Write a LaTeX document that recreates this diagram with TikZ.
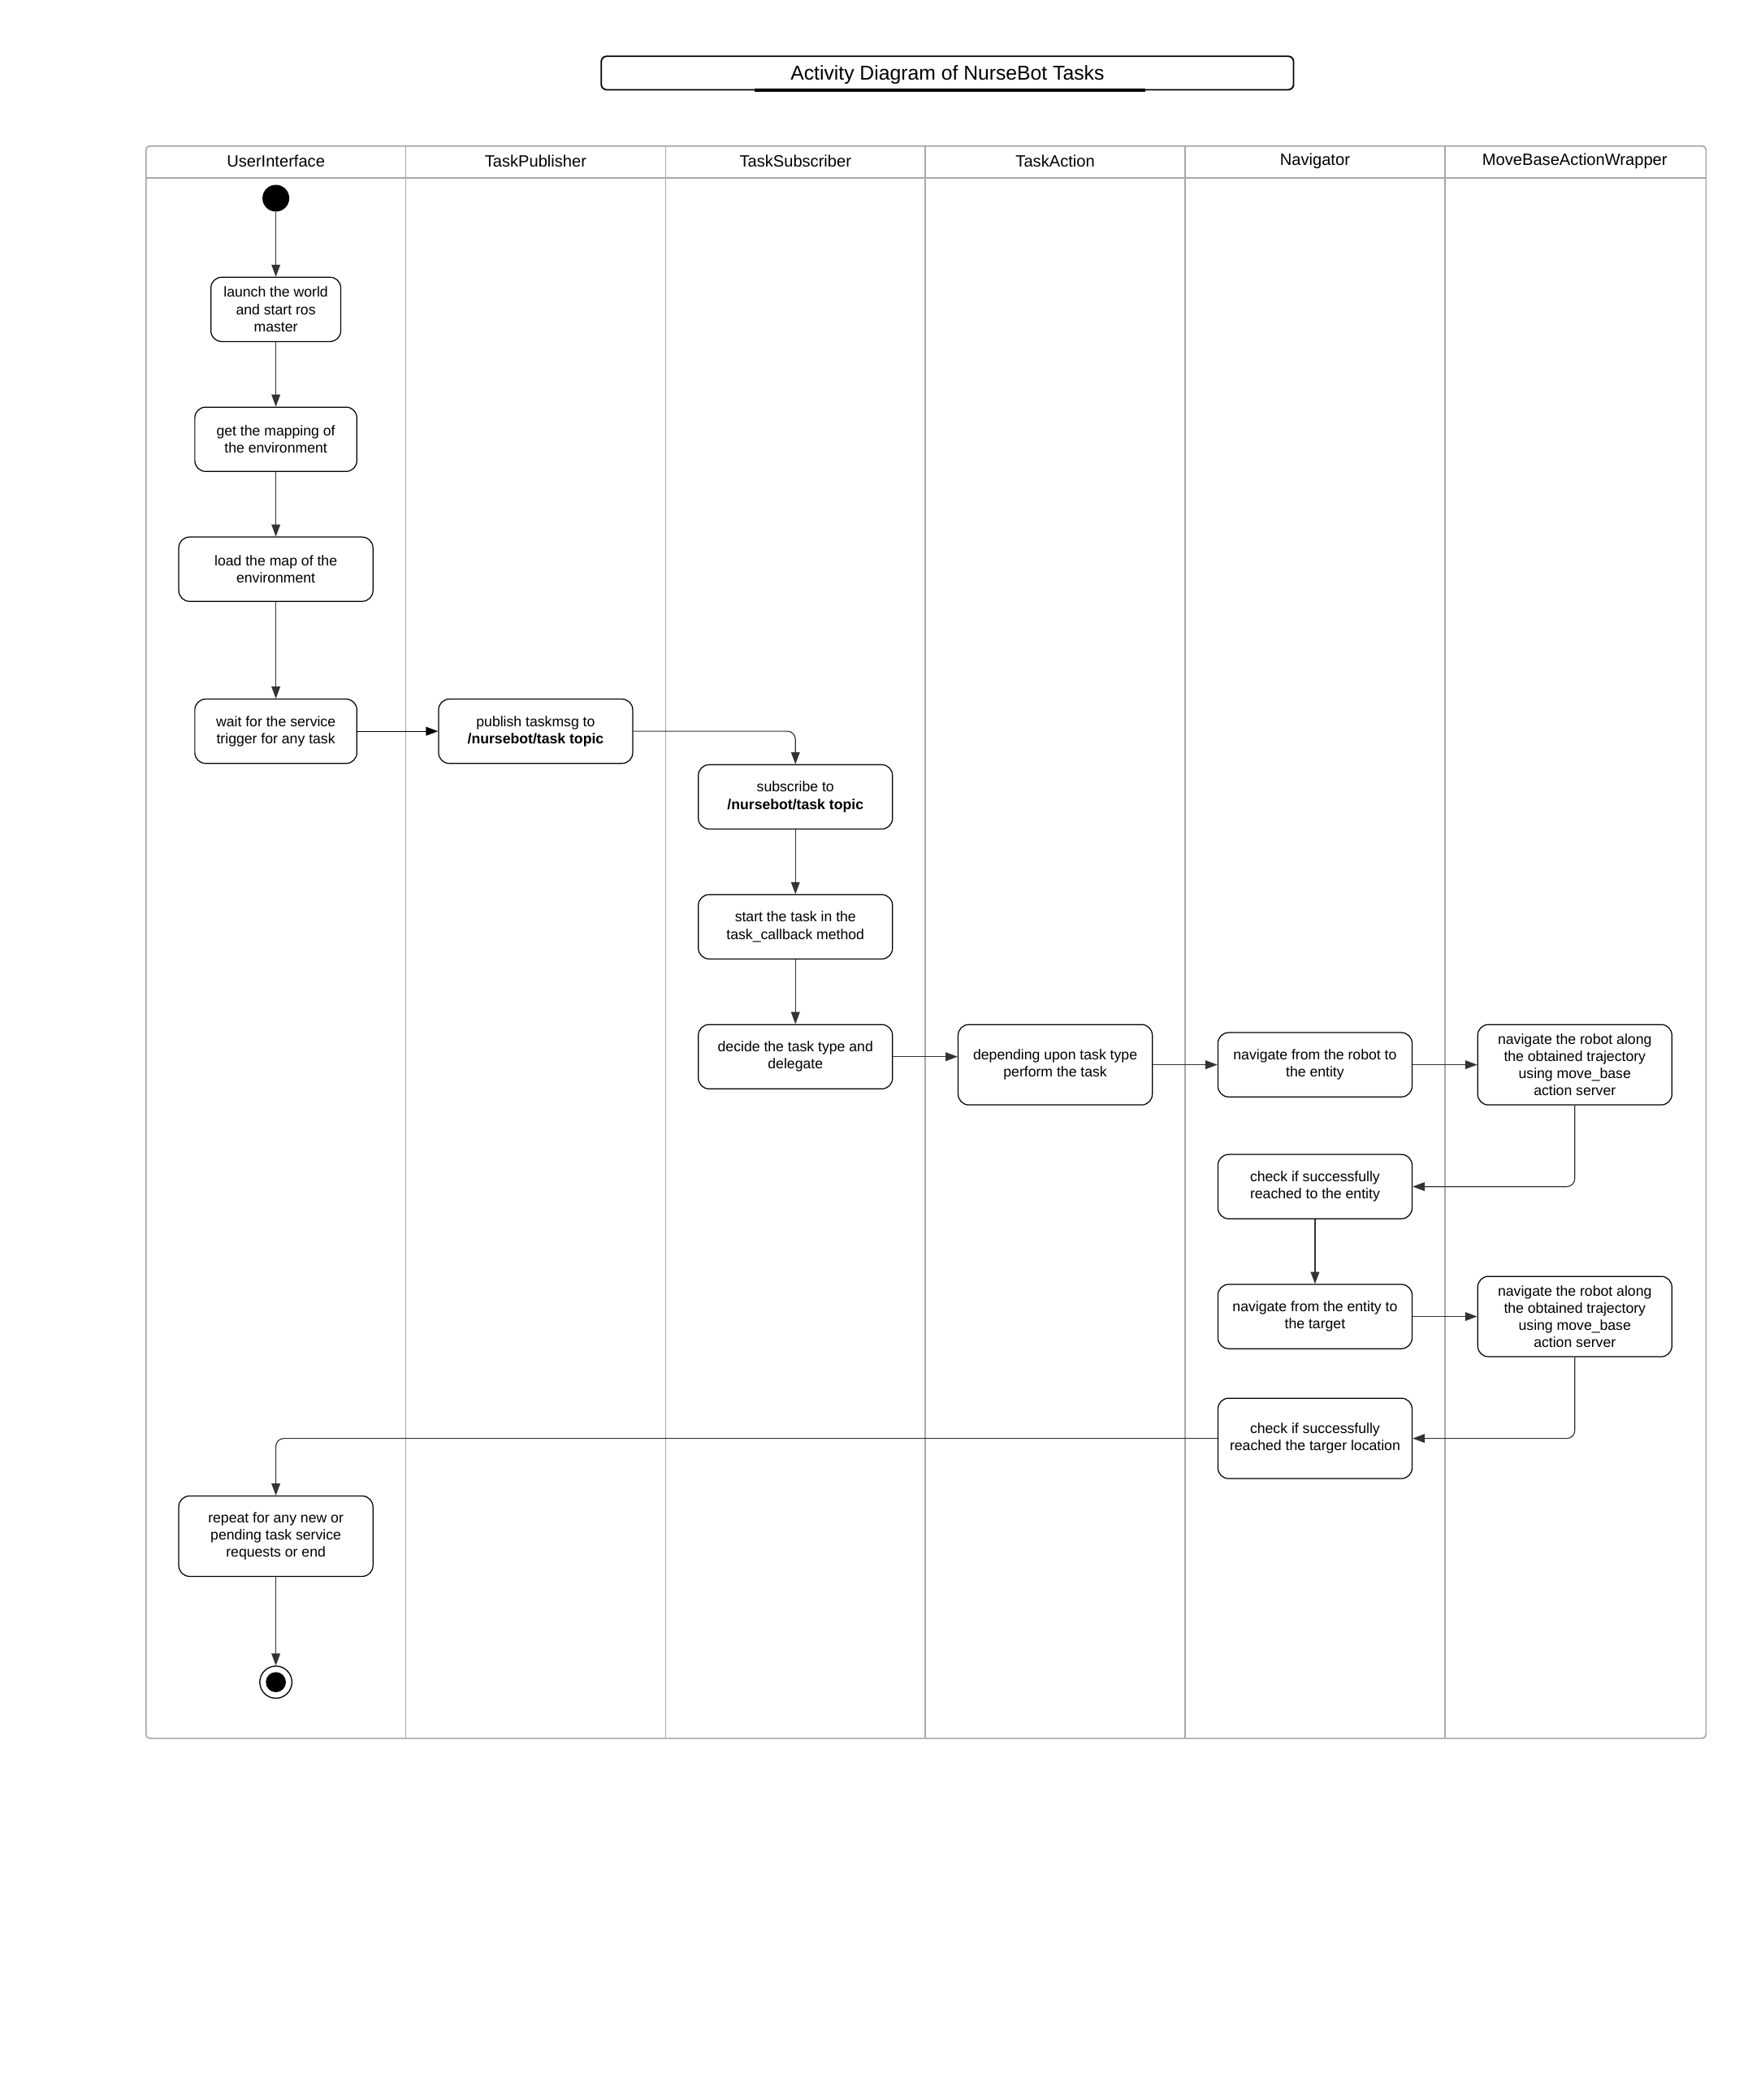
\documentclass[tikz,border=0pt]{standalone}
\usepackage{fontspec}
\setmainfont{Liberation Sans}
\usetikzlibrary{arrows.meta}
\definecolor{lanegray}{HTML}{A8A8A8}
\definecolor{ink}{HTML}{333333}
\begin{document}
\begin{tikzpicture}[x=1pt,y=-1pt,
  box/.style={draw=black, line width=0.75pt, rounded corners=8pt, fill=white, align=center, inner sep=0pt, font=\fontsize{10.7}{12.85}\selectfont},
  conn/.style={draw=ink, line width=0.7pt, -{Triangle[length=9pt,width=6.5pt]}, rounded corners=6pt},
  lane/.style={draw=lanegray, line width=1pt},
  hdr/.style={font=\fontsize{12.2}{14}\selectfont, inner sep=0pt}
]
\useasboundingbox (0,0) rectangle (1315,1568);

% title
\node[draw=black, line width=1.1pt, rounded corners=4pt, minimum width=517pt, minimum height=25pt, inner sep=0pt, text depth=0pt, font=\fontsize{15}{18}\selectfont] (title) at (707.5,54.5) {Activity Diagram of NurseBot Tasks};
\draw[black, line width=2pt] ([xshift=-144pt,yshift=0.3pt]title.south) -- ([xshift=148pt,yshift=0.3pt]title.south);

% swimlanes
\draw[lane, rounded corners=3pt] (109,109) rectangle (1274,1298);
\draw[lane] (109,133) -- (1274,133);
\foreach \x in {303,497,691,885,1079} \draw[lane] (\x,109) -- (\x,1298);

\node[hdr] (h1) at (206,120.5) {UserInterface};
\node[hdr] (h2) at (400,120.5) {TaskPublisher};
\node[hdr] (h3) at (594,120.5) {TaskSubscriber};
\node[hdr] (h4) at (788,120.5) {TaskAction};
\node[hdr] (h5) at (982,120.5) {Navigator};
\node[hdr] (h6) at (1176,120.5) {MoveBaseActionWrapper};

% nodes
\node[circle, fill=black, minimum size=20pt, inner sep=0pt] (init) at (206,148) {};
\node[box, minimum width=97pt, minimum height=48pt] (launch) at (206,231) {launch the world\\and start ros\\master};
\node[box, minimum width=121pt, minimum height=48pt] (mapping) at (206,328) {get the mapping of\\the environment};
\node[box, minimum width=145pt, minimum height=48pt] (load) at (206,425) {load the map of the\\environment};
\node[box, minimum width=121pt, minimum height=48pt] (wait) at (206,546) {wait for the service\\trigger for any task};
\node[box, minimum width=145pt, minimum height=48pt] (publish) at (400,546) {publish taskmsg to\\\textbf{/nursebot/task topic}};
\node[box, minimum width=145pt, minimum height=48pt] (subscribe) at (594,595) {subscribe to\\\textbf{/nursebot/task topic}};
\node[box, minimum width=145pt, minimum height=48pt] (starttask) at (594,692) {start the task in the\\task\_callback method};
\node[box, minimum width=145pt, minimum height=48pt] (decide) at (594,789) {decide the task type and\\delegate};
\node[box, minimum width=145pt, minimum height=60pt] (depending) at (788,795) {depending upon task type\\perform the task};
\node[box, minimum width=145pt, minimum height=48pt] (navrobot) at (982,795) {navigate from the robot to\\the entity};
\node[box, minimum width=145pt, minimum height=60pt] (mbone) at (1176,795) {navigate the robot along\\the obtained trajectory\\using move\_base\\action server};
\node[box, minimum width=145pt, minimum height=48pt] (checkone) at (982,886) {check if successfully\\reached to the entity};
\node[box, minimum width=145pt, minimum height=48pt] (naventity) at (982,983) {navigate from the entity to\\the target};
\node[box, minimum width=145pt, minimum height=60pt] (mbtwo) at (1176,983) {navigate the robot along\\the obtained trajectory\\using move\_base\\action server};
\node[box, minimum width=145pt, minimum height=60pt] (checktwo) at (982,1074) {check if successfully\\reached the targer location};
\node[box, minimum width=145pt, minimum height=60pt] (repeat) at (206,1147) {repeat for any new or\\pending task service\\requests or end};
\node[circle, draw=black, line width=0.8pt, minimum size=24pt, inner sep=0pt] (stop) at (206,1256) {};
\node[circle, fill=black, minimum size=15pt, inner sep=0pt] (stopdot) at (stop.center) {};

% connectors
\draw[conn] (init) -- (launch);
\draw[conn] (launch) -- (mapping);
\draw[conn] (mapping) -- (load);
\draw[conn] (load) -- (wait);
\draw[conn, draw=black] (wait) -- (publish);
\draw[conn] (publish.east) -| (subscribe.north);
\draw[conn] (subscribe) -- (starttask);
\draw[conn] (starttask) -- (decide);
\draw[conn] (decide.east) -- (decide.east -| depending.west);
\draw[conn] (depending) -- (navrobot);
\draw[conn] (navrobot) -- (mbone);
\draw[conn] (mbone.south) |- (checkone.east);
\draw[conn] (checkone) -- (naventity);
\draw[conn] (naventity) -- (mbtwo);
\draw[conn] (mbtwo.south) |- (checktwo.east);
\draw[conn] (checktwo.west) -| (repeat.north);
\draw[conn] (repeat) -- (stop);
\end{tikzpicture}
\end{document}
